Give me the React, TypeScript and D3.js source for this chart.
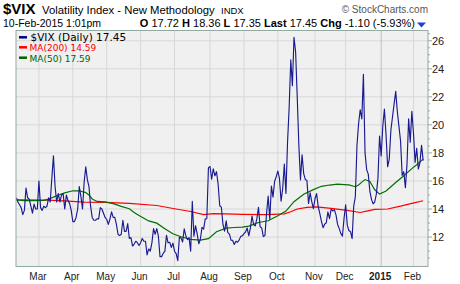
import React from "react";
import * as d3 from "d3";

// Daily $VIX closes, 10-Feb-2014 .. 10-Feb-2015 (trading-day index 0..252)
const closes: number[] = [
  // Feb 2014
  14.8, 14.5, 14.3, 14.1, 13.6, 13.9, 15.5, 14.8, 14.7, 14.2, 13.7, 14.35, 14.0, 14.0,
  // Mar
  16.0, 14.1, 13.9, 14.2, 14.1, 14.2, 14.8, 14.5, 16.2, 17.8, 15.6, 14.5, 15.1, 14.5, 15.0, 15.1, 14.0, 15.0, 14.6, 14.4, 13.9,
  // Apr
  13.1, 13.1, 13.4, 14.0, 15.6, 14.9, 14.0, 15.9, 17.0, 16.1, 15.6, 14.2, 13.4, 13.2, 13.2, 13.3, 13.3, 14.1, 14.0, 13.7, 13.4,
  // May
  13.25, 12.9, 13.3, 13.8, 13.4, 13.4, 12.9, 12.2, 12.1, 12.2, 13.2, 12.4, 12.4, 12.96, 11.9, 11.96, 11.36, 11.5, 11.7, 11.6, 11.4,
  // Jun
  11.6, 11.9, 11.7, 11.7, 10.73, 11.15, 11.0, 11.6, 12.6, 12.2, 12.6, 12.06, 10.6, 10.6, 10.85, 10.98, 12.13, 11.59, 11.63, 11.26, 11.57,
  // Jul
  10.99, 10.82, 10.32, 11.98, 11.94, 11.65, 12.59, 12.08, 11.82, 11.96, 11.0, 14.54, 12.06, 12.81, 12.24, 11.52, 11.84, 12.69, 12.56, 13.28, 13.33, 16.95,
  // Aug
  17.03, 16.12, 16.87, 16.37, 16.66, 15.77, 14.23, 14.13, 12.9, 12.42, 13.15, 12.32, 12.21, 11.78, 11.76, 11.47, 11.7, 11.63, 11.78, 12.05, 12.09,
  // Sep
  12.25, 12.36, 12.64, 12.09, 12.66, 13.5, 12.88, 12.8, 13.31, 14.12, 12.73, 12.65, 12.03, 12.11, 13.69, 14.93, 13.27, 15.64, 14.85, 15.98, 16.31,
  // Oct
  16.71, 16.16, 14.55, 15.46, 17.2, 15.11, 18.76, 21.24, 24.64, 22.79, 26.25, 25.2, 21.99, 18.57, 16.08, 17.87, 16.53, 16.11, 16.04, 14.39, 15.15, 14.52, 14.03,
  // Nov
  14.73, 15.1, 14.17, 13.67, 13.12, 12.67, 12.92, 13.02, 13.79, 13.31, 13.99, 13.86, 13.96, 13.58, 12.9, 12.62, 12.25, 12.07, 13.33,
  // Dec
  14.29, 12.85, 12.47, 12.38, 11.89, 14.21, 14.89, 18.53, 20.08, 21.08, 20.42, 23.6, 18.0, 16.81, 16.49, 15.25, 14.69, 14.37, 14.5, 15.06, 16.2, 19.2,
  // Jan 2015
  17.79, 19.92, 21.12, 19.31, 17.01, 17.55, 19.6, 20.56, 21.48, 22.39, 20.95, 19.89, 18.85, 16.4, 16.66, 15.52, 17.22, 20.44, 18.76, 20.97,
  // Feb 2015
  19.43, 17.33, 18.33, 16.85, 17.29, 18.55, 17.45,
];

// MA(50) read at trading-day indices
const ma50Idx: number[] = [0, 5, 11, 17, 20, 23, 26, 30, 35, 39, 43, 45, 47, 50, 55, 60, 65, 70, 73, 76, 82, 87, 92, 97, 102, 108, 114, 119, 124, 130, 135, 140, 144, 150, 156, 162, 167, 172, 178, 184, 189, 194, 199, 203, 206, 210, 212, 214, 216, 219, 222, 225, 229, 235, 240, 245, 248, 252];
const ma50Val: number[] = [14.65, 14.6, 14.6, 14.62, 14.7, 14.85, 15.0, 15.15, 15.3, 15.3, 15.17, 15.0, 14.72, 14.54, 14.51, 14.38, 14.19, 14.02, 13.75, 13.54, 13.15, 12.99, 12.6, 12.24, 12.02, 11.83, 11.78, 11.89, 12.38, 12.64, 12.68, 12.71, 12.78, 13.04, 13.16, 13.52, 13.85, 14.52, 15.05, 15.38, 15.62, 15.71, 15.77, 15.74, 15.72, 15.59, 15.71, 15.92, 16.1, 15.97, 15.37, 15.06, 15.29, 15.89, 16.37, 16.88, 17.16, 17.56];

// MA(200) read at trading-day indices
const ma200Idx: number[] = [0, 20, 32, 42, 55, 70, 87, 98, 108, 116, 122, 130, 140, 155, 166, 170, 174, 180, 186, 195, 205, 213, 217, 222, 230, 238, 245, 252];
const ma200Val: number[] = [14.65, 14.63, 14.56, 14.49, 14.47, 14.4, 14.25, 14.02, 13.82, 13.6, 13.67, 13.65, 13.62, 13.6, 13.65, 13.8, 14.0, 14.12, 14.15, 14.05, 13.9, 13.75, 13.85, 13.97, 14.0, 14.2, 14.4, 14.59];

const monthTickIdx: number[] = [14, 35, 56, 77, 98, 120, 141, 162, 185, 204, 226, 246];
const monthTickLabels: string[] = ["Mar", "Apr", "May", "Jun", "Jul", "Aug", "Sep", "Oct", "Nov", "Dec", "2015", "Feb"];
const yTickValues: number[] = [12, 14, 16, 18, 20, 22, 24, 26];

const W = 460;
const H = 284;
const L = 16;
const R = 428;
const T = 30.5;
const B = 266.5;

export default function App() {
  const x = d3.scaleLinear().domain([-0.2, 255]).range([L, R]);
  const y = d3.scaleLinear().domain([9.9, 26.73]).range([B, T]);

  const vixLine = d3
    .line<number>()
    .x((_, i) => x(i))
    .y((v) => y(v))(closes) as string;
  const ma50Line = d3
    .line<number>()
    .x((_, i) => x(ma50Idx[i]))
    .y((v) => y(v))(ma50Val) as string;
  const ma200Line = d3
    .line<number>()
    .x((_, i) => x(ma200Idx[i]))
    .y((v) => y(v))(ma200Val) as string;

  const minorTicks = d3.range(10, 26.51, 0.5).filter((v) => Math.abs(v % 2) > 0.01);

  const sans = "'Liberation Sans', Arial, sans-serif";
  const verd = "'DejaVu Sans', Verdana, sans-serif";

  return (
    <svg
      width={W}
      height={H}
      viewBox={`0 0 ${W} ${H}`}
      style={{ position: "absolute", left: 0, top: 0, background: "#fff" }}
    >
      <defs>
        <clipPath id="plotClip">
          <rect x={L} y={T} width={R - L} height={B - T} />
        </clipPath>
      </defs>

      {/* Header */}
      <text x={3} y={14} fontFamily={sans} fontSize={15} fontWeight="bold" fill="#000">$VIX</text>
      <text x={42} y={14} fontFamily={sans} fontSize={11.3} fill="#000">Volatility Index - New Methodology</text>
      <text x={221} y={14} fontFamily={sans} fontSize={9.5} fill="#000">INDX</text>
      <text x={428} y={13} textAnchor="end" fontFamily={sans} fontSize={10} fill="#555">© StockCharts.com</text>

      <text x={3} y={27} fontFamily={sans} fontSize={10.5} fill="#000">10-Feb-2015 1:01pm</text>
      <text x={415} y={27} textAnchor="end" fontFamily={sans} fontSize={11} fill="#000">
        <tspan fontWeight="bold">O</tspan>
        <tspan> 17.72 </tspan>
        <tspan fontWeight="bold">H</tspan>
        <tspan> 18.36 </tspan>
        <tspan fontWeight="bold">L</tspan>
        <tspan> 17.35 </tspan>
        <tspan fontWeight="bold">Last</tspan>
        <tspan> 17.45 </tspan>
        <tspan fontWeight="bold">Chg</tspan>
        <tspan> -1.10 (-5.93%)</tspan>
      </text>
      <path d="M417,22.5 L426,22.5 L421.5,27.5 Z" fill="#1d3fe0" />

      {/* Plot background */}
      <rect x={L} y={T} width={R - L} height={B - T} fill="#f0f0f0" />

      {/* Grid */}
      {yTickValues.map((v) => (
        <line key={"hg" + v} x1={L} x2={R} y1={y(v)} y2={y(v)} stroke="#d8d8d8" strokeWidth={1} />
      ))}
      {monthTickIdx.map((d, k) => (
        <line
          key={"vg" + k}
          x1={x(d)}
          x2={x(d)}
          y1={T}
          y2={B}
          stroke={monthTickLabels[k] === "2015" ? "#c0c0c0" : "#d8d8d8"}
          strokeWidth={1}
        />
      ))}

      {/* Series */}
      <g clipPath="url(#plotClip)">
        <path d={ma200Line} fill="none" stroke="#ff0000" strokeWidth={1.2} />
        <path d={ma50Line} fill="none" stroke="#007000" strokeWidth={1.2} />
        <path d={vixLine} fill="none" stroke="#1a1a90" strokeWidth={1.15} strokeLinejoin="round" />
      </g>

      {/* Border */}
      <rect x={L} y={T} width={R - L} height={B - T} fill="none" stroke="#93aaa2" strokeWidth={1} />

      {/* Right axis ticks */}
      {minorTicks.map((v) => (
        <line key={"mt" + v} x1={R} x2={R + 2} y1={y(v)} y2={y(v)} stroke="#93aaa2" strokeWidth={1} />
      ))}
      {yTickValues.map((v) => (
        <g key={"yt" + v}>
          <line x1={R} x2={R + 4} y1={y(v)} y2={y(v)} stroke="#93aaa2" strokeWidth={1} />
          <text x={432} y={y(v) + 4} fontFamily={sans} fontSize={11} fill="#222">{v}</text>
        </g>
      ))}

      {/* X axis labels */}
      {monthTickIdx.map((d, k) => (
        <text
          key={"xl" + k}
          x={x(d) - 1}
          y={280}
          textAnchor="middle"
          fontFamily={sans}
          fontSize={10}
          fontWeight={monthTickLabels[k] === "2015" ? "bold" : "normal"}
          fill="#222"
        >
          {monthTickLabels[k]}
        </text>
      ))}

      {/* Legend */}
      <line x1={19} x2={27} y1={37.3} y2={37.3} stroke="#000080" strokeWidth={2.5} />
      <text x={30.5} y={41} fontFamily={verd} fontSize={10.5} fill="#000">$VIX (Daily) 17.45</text>
      <line x1={19} x2={27} y1={47.3} y2={47.3} stroke="#ff0000" strokeWidth={2.5} />
      <text x={29.5} y={51} fontFamily={verd} fontSize={9} fill="#ff0000">MA(200) 14.59</text>
      <line x1={19} x2={27} y1={57.7} y2={57.7} stroke="#006400" strokeWidth={2.5} />
      <text x={29.5} y={61.5} fontFamily={verd} fontSize={9} fill="#006400">MA(50) 17.59</text>
    </svg>
  );
}
